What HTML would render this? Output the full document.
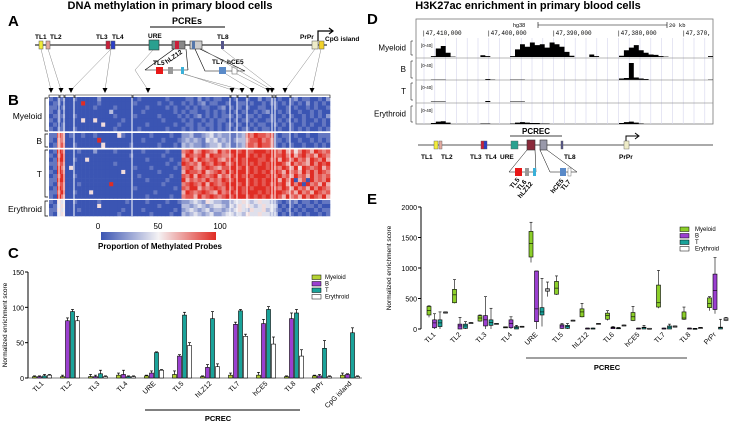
<!DOCTYPE html>
<html><head><meta charset="utf-8">
<style>
html,body{margin:0;padding:0;background:#fff;}
svg{display:block;font-family:"Liberation Sans",sans-serif;}
</style></head>
<body>
<svg id="fig" width="730" height="423" viewBox="0 0 730 423" xmlns="http://www.w3.org/2000/svg">
<!-- Titles / panel letters -->
<text x="170" y="9" font-size="11" font-weight="bold" text-anchor="middle">DNA methylation in primary blood cells</text>
<text x="528" y="9" font-size="11" font-weight="bold" text-anchor="middle">H3K27ac enrichment in primary blood cells</text>
<text x="8" y="26" font-size="15" font-weight="bold">A</text>
<text x="8" y="105" font-size="15" font-weight="bold">B</text>
<text x="8" y="258" font-size="15" font-weight="bold">C</text>
<text x="367" y="24" font-size="15" font-weight="bold">D</text>
<text x="367" y="204" font-size="15" font-weight="bold">E</text>

<!-- Panel A gene diagram -->
<g id="geneA" font-size="6.5" font-weight="bold">
  <line x1="150" y1="27" x2="225" y2="27" stroke="#000" stroke-width="1"/>
  <text x="187" y="24" font-size="9" text-anchor="middle">PCREs</text>
  <line x1="35" y1="45" x2="327" y2="45" stroke="#000" stroke-width="1"/>
  <rect x="39" y="41" width="4" height="8" fill="#f2ec3a" stroke="#555" stroke-width=".5"/>
  <rect x="46" y="41" width="4" height="8" fill="#e3aaa0" stroke="#555" stroke-width=".5"/>
  <rect x="106" y="41" width="4" height="8" fill="#c9203a" stroke="#555" stroke-width=".5"/>
  <rect x="111" y="41" width="4" height="8" fill="#2a3fc9" stroke="#555" stroke-width=".5"/>
  <rect x="149" y="40" width="10" height="10" fill="#2aa08f" stroke="#333" stroke-width=".6"/>
  <rect x="172" y="41" width="13" height="8" fill="#888" stroke="#333" stroke-width=".6"/>
  <rect x="175" y="41" width="4" height="8" fill="#c9203a"/>
  <rect x="190" y="41" width="12" height="8" fill="#ccc" stroke="#333" stroke-width=".6"/>
  <rect x="192" y="41" width="3" height="8" fill="#5577aa"/>
  <rect x="221" y="41" width="3" height="8" fill="#55558a"/>
  <rect x="312" y="41" width="6" height="8" fill="#eeecc8" stroke="#555" stroke-width=".5"/>
  <rect x="319" y="41" width="5" height="8" fill="#f2d22a" stroke="#555" stroke-width=".5"/>
  <path d="M318 41 V31 H332" fill="none" stroke="#000" stroke-width="1.2"/>
  <path d="M329 28 L333 31 L329 34" fill="none" stroke="#000" stroke-width="1.2"/>
  <text x="35" y="39">TL1</text><text x="50" y="39">TL2</text>
  <text x="96" y="39">TL3</text><text x="112" y="39">TL4</text>
  <text x="148" y="38">URE</text><text x="217" y="39">TL8</text>
  <text x="300" y="39">PrPr</text><text x="325" y="41">CpG island</text>
  <path d="M145 70 L174 49 M186 49 L188 70 M145 70 H188" fill="none" stroke="#000" stroke-width=".6"/>
  <rect x="156" y="67" width="7" height="7" fill="#e81818"/>
  <rect x="168" y="67" width="5" height="7" fill="#999"/>
  <rect x="181" y="67" width="3" height="7" fill="#3ab0d8"/>
  <text x="153" y="65">TL5</text>
  <text x="167" y="64" transform="rotate(-35 167 64)">hLZ12</text>
  <path d="M195 49 L205 71 H245 L200 49" fill="none" stroke="#000" stroke-width=".6"/>
  <rect x="219" y="67" width="7" height="7" fill="#5a8ac8"/>
  <rect x="232" y="67" width="5" height="7" fill="#fff" stroke="#555" stroke-width=".5"/>
  <text x="212" y="64">TL7</text><text x="227" y="64">hCE5</text>
  <g stroke="#888" stroke-width=".5" fill="none">
    <path d="M41 49 L51 90 M48 49 L61 90 M111 49 L71 90 M111 49 L105 90 M153 50 L135 70 L148 90"/>
    <path d="M185 74 L232 90 M183 74 L242 90 M226 74 L252 90 M237 74 L268 90 M222 49 L275 90 M202 49 L272 90 M315 49 L285 90 M321 49 L312 90"/>
  </g>
  <g id="arrowsA" fill="#000"></g>
</g>

<!-- Panel B heatmap -->
<g id="heat"></g>
<g font-size="8.5">
  <text x="42" y="119" text-anchor="end">Myeloid</text>
  <text x="42" y="144" text-anchor="end">B</text>
  <text x="42" y="177" text-anchor="end">T</text>
  <text x="42" y="212" text-anchor="end">Erythroid</text>
  <path d="M48 98 H45 V131 H48 M48 134 H45 V147 H48 M48 150 H45 V197 H48 M48 201 H45 V216 H48" fill="none" stroke="#000" stroke-width=".7"/>
</g>
<defs><linearGradient id="cb" x1="0" x2="1"><stop offset="0" stop-color="#3b55b3"/><stop offset=".5" stop-color="#f4f2f4"/><stop offset="1" stop-color="#e02c24"/></linearGradient></defs>
<g>
  <rect x="101" y="232" width="115" height="8" fill="url(#cb)"/>
  <text x="98" y="229" font-size="8" text-anchor="middle">0</text>
  <text x="158" y="229" font-size="8" text-anchor="middle">50</text>
  <text x="220" y="229" font-size="8" text-anchor="middle">100</text>
  <text x="160" y="249" font-size="8" font-weight="bold" text-anchor="middle">Proportion of Methylated Probes</text>
</g>

<!-- Panel C -->
<g id="chartC"></g>
<!-- Panel D -->
<g id="browser"></g>
<!-- Panel E -->
<g id="chartE"></g>
</svg>
<script>
const NS="http://www.w3.org/2000/svg";
function mk(parent,tag,attrs,text){const e=document.createElementNS(NS,tag);for(const k in attrs)e.setAttribute(k,attrs[k]);if(text!==undefined)e.textContent=text;parent.appendChild(e);return e;}

/* ---------- Heatmap data (digits 0=unmethylated blue .. 9=methylated red) ---------- */
const heatMyeloid=[
"10"+"11"+"00100000200000000010000001000"+"011020101100"+"010010020110"+"1001201100102",
"01"+"10"+"00009000100000000100000100100"+"101012011001"+"001101001011"+"0101010201010",
"11"+"01"+"00000001000010000000100001010"+"010101100120"+"101010011001"+"0010100101001",
"10"+"10"+"00000000000300000001000000010"+"101100101010"+"010100101200"+"1010010010100",
"01"+"11"+"00100000000010000100000100001"+"010120101011"+"101011010010"+"0101001010102",
"10"+"10"+"00005005000000100000000010000"+"101001010110"+"010110100110"+"1010101001010",
"01"+"01"+"00000000050001000000100000010"+"011010110101"+"101001011001"+"0101001010010",
"10"+"11"+"00100000000010000010000001000"+"101011010101"+"010110101100"+"1001010100101"];
const heatB=[
"11"+"87"+"01001001000005100000010000100"+"223112342322"+"112387988781"+"0110100100111",
"10"+"77"+"00000000900000000001000010001"+"232321434232"+"123378897871"+"1010010010101",
"01"+"78"+"00100000050000001000000100010"+"323221233423"+"112388798871"+"0101001001010"];
const heatT=[
"01"+"98"+"00010002000010000001000001000"+"789679876978"+"998988999898"+"7968579869878",
"10"+"89"+"00000000000000001000000010000"+"698789698877"+"899989898998"+"8979689786987",
"01"+"99"+"00100500000000000000100000100"+"879698789768"+"989899988989"+"6987978698796",
"11"+"88"+"00000000000010000000000001001"+"987869879897"+"899898989899"+"9869787697989",
"01"+"97"+"05000000000000000100010000010"+"789768987688"+"998989899898"+"7986959878968",
"10"+"98"+"00000000000000500000000100000"+"698879678979"+"899989898989"+"8697869797987",
"01"+"89"+"00100000000000000010000000100"+"879698789687"+"989898999898"+"9786978697878",
"11"+"99"+"00000000000000000000100001000"+"968787978798"+"899989898999"+"6979068097879",
"10"+"88"+"00010000000900000000000010000"+"789879698789"+"998989898989"+"8969790978696",
"01"+"98"+"00000000000000000100000000010"+"879968789879"+"899898999898"+"7986978697987",
"11"+"89"+"00100050000000000000001000000"+"698789876978"+"989899989899"+"9878697869878",
"10"+"97"+"00000000000000000000100000100"+"788697898789"+"899989898989"+"8697869798796"];
const heatEry=[
"10"+"54"+"00100000100000010000100001001"+"223432543322"+"344543454432"+"1011201101011",
"01"+"45"+"00000000500000000000000100000"+"332343234432"+"435454345443"+"0101010110100",
"11"+"54"+"00010000000000100001000000010"+"234323423323"+"345435445342"+"1010101001011",
"10"+"45"+"00000000000001000000010000100"+"323432342234"+"434354454433"+"0101010100101"];

function heatColor(v){const t=v/9;let r,g,b;
 if(t<.5){const u=t/.5;r=59+(244-59)*u;g=85+(242-85)*u;b=179+(244-179)*u;}
 else{const u=(t-.5)/.5;r=244+(224-244)*u;g=242+(44-242)*u;b=244+(36-244)*u;}
 return `rgb(${r|0},${g|0},${b|0})`;}
(function(){
 const g=document.getElementById('heat');
 const x0=49,x1=330,cols=70,cw=(x1-x0)/cols;
 const groups=[[heatMyeloid,97,131],[heatB,133,147.5],[heatT,149.5,198.5],[heatEry,200,216]];
 groups.forEach(([rows,ya,yb])=>{const rh=(yb-ya)/rows.length;
  rows.forEach((s,ri)=>{for(let c=0;c<s.length&&c<cols;c++){
   const r=mk(g,'rect',{x:(x0+c*cw).toFixed(2),y:(ya+ri*rh).toFixed(2),width:(cw+.3).toFixed(2),height:(rh+.3).toFixed(2),fill:heatColor(+s[c])});
   
   
  }});});
 [59,64,74,132,230,237,247,272,275,290].forEach(x=>mk(g,'line',{x1:x,y1:97,x2:x,y2:216,stroke:'#fff','stroke-width':1}));
 // bracket frames on top
 const br=[[49,59],[60,64],[65,74],[75,132],[133,230],[231,237],[238,247],[248,272],[273,275],[276,290],[291,330]];
 br.forEach(([a,b])=>mk(g,'path',{d:`M${a} 98 V95 H${b} V98`,fill:'none',stroke:'#000','stroke-width':.6}));
 const arr=document.getElementById('arrowsA');
 [51,61,71,105,148,232,242,252,268,272,285,312].forEach(x=>mk(arr,'path',{d:`M${x-2.5} 88 L${x+2.5} 88 L${x} 93 Z`}));
})();

/* ---------- Panel C data ---------- */
const cCategories=["TL1","TL2","TL3","TL4","URE","TL5","hLZ12","TL7","hCE5","TL8","PrPr","CpG island"];
const cSeriesNames=["Myeloid","B","T","Erythroid"];
const cMyeloid=[2,2,2,4,3,5,2,4,4,2,3,4];
const cB=[2,81,2,5,7,31,15,76,77,84,3,5];
const cT=[3,94,6,2,36,89,84,95,97,92,42,64];
const cErythroid=[4,81,2,2,11,46,16,59,48,31,2,2];
const cMyeloidErr=[1,2,3,3,1,5,1,3,4,1,1,3];
const cBErr=[1,4,2,6,3,2,4,3,6,8,2,1];
const cTErr=[2,3,5,1,1,4,10,2,4,5,11,7];
const cErythroidErr=[1,6,1,1,1,4,4,3,10,9,1,1];
const cTicks=[0,50,100,150];
(function(){
 const g=document.getElementById('chartC');
 const yA=378,yB=272,vmax=150,xl=28;
 const ys=v=>yA-(v/vmax)*(yA-yB);
 const xs=i=>42+28*i;
 const fills=["#b5d334","#9b3fd0","#1aa39a","#ffffff"];
 const data=[cMyeloid,cB,cT,cErythroid], errs=[cMyeloidErr,cBErr,cTErr,cErythroidErr];
 mk(g,'line',{x1:xl,y1:yB,x2:xl,y2:yA,stroke:'#000','stroke-width':1});
 mk(g,'line',{x1:xl,y1:yA,x2:362,y2:yA,stroke:'#000','stroke-width':.6});
 cTicks.forEach(t=>{mk(g,'line',{x1:xl-3,y1:ys(t),x2:xl,y2:ys(t),stroke:'#000'});
  const l=mk(g,'text',{x:xl-4,y:ys(t)+3,'font-size':7,'text-anchor':'end'},String(t));
  
  });
 const yt=mk(g,'text',{x:7,y:325,'font-size':6.5,'text-anchor':'middle',transform:'rotate(-90 7 325)'},'Normalized enrichment score');
 
 
 cCategories.forEach((c,i)=>{const cx=xs(i);
  data.forEach((s,k)=>{const x=cx-9.5+5*k,v=s[i],e=errs[k][i];
   mk(g,'line',{x1:x+2,y1:ys(v),x2:x+2,y2:ys(v+e),stroke:'#000','stroke-width':.7});
   mk(g,'line',{x1:x+.5,y1:ys(v+e),x2:x+3.5,y2:ys(v+e),stroke:'#000','stroke-width':.7});
   const b=mk(g,'rect',{x:x,y:ys(v),width:4,height:yA-ys(v),fill:fills[k],stroke:'#000','stroke-width':.6});
   
   });
  const tx=cx+2,ty=384;
  const l=mk(g,'text',{x:tx,y:ty,'font-size':7,'text-anchor':'end',transform:`rotate(-45 ${tx} ${ty})`},c);
  
  });
 mk(g,'line',{x1:145,y1:410,x2:300,y2:410,stroke:'#000','stroke-width':1});
 mk(g,'text',{x:218,y:421,'font-size':7.5,'font-weight':'bold','text-anchor':'middle'},'PCREC');
 cSeriesNames.forEach((n,k)=>{const y=279+6.5*k;
  const r=mk(g,'rect',{x:312,y:y-4,width:9,height:4.5,fill:fills[k],stroke:'#000','stroke-width':.5});
  
  
  mk(g,'text',{x:325,y:y,'font-size':6},n);});
})();

/* ---------- Panel D browser data ---------- */
const dMyeloid=[0,0,0,2,20,26,10,1,0,0,0,0,0,4,2,0,0,0,0,2,18,30,24,34,28,30,22,34,30,24,12,3,0,0,0,6,2,0,0,0,0,3,16,22,28,16,10,6,5,2,1,0,0,0,0,0,0,0,0,2];
const dB=[0,0,0,1,1,1,0,0,0,0,0,0,0,0,2,1,0,0,0,1,1,1,0,0,0,0,0,0,0,0,0,0,0,0,0,0,0,0,0,0,0,3,4,34,5,3,2,0,0,0,0,0,0,0,0,0,0,0,0,1];
const dT=[0,0,0,1,1,1,0,0,0,0,0,0,0,0,2,0,0,0,0,1,1,1,0,0,0,0,0,0,0,0,0,0,0,0,0,0,0,0,0,0,0,0,0,0,0,0,0,0,0,0,0,0,0,0,0,0,0,0,0,0];
const dErythroid=[0,0,0,2,5,6,3,0,0,0,0,0,0,1,1,0,0,0,0,1,3,4,3,2,2,1,1,0,0,0,0,0,0,0,0,0,0,0,0,0,0,2,4,5,3,1,0,0,0,0,0,0,0,0,0,0,0,0,0,0];
const dTrackNames=["Myeloid","B","T","Erythroid"];
const dCoordLabels=["|47,410,000","|47,400,000","|47,390,000","|47,380,000","|47,370,"];
(function(){
 const g=document.getElementById('browser');
 const X0=416,X1=713,Y0=19,Y1=124;
 mk(g,'rect',{x:X0,y:Y0,width:X1-X0,height:Y1-Y0,fill:'#fff',stroke:'#777','stroke-width':.8});
 for(let x=X0+8;x<X1;x+=10.8)mk(g,'line',{x1:x,y1:38,x2:x,y2:Y1,stroke:'#d6d6ec','stroke-width':.6});
 dCoordLabels.forEach((t,i)=>mk(g,'text',{x:422+65*i,y:35,'font-size':6,'font-family':'Liberation Mono, monospace'},t));
 mk(g,'text',{x:513,y:27,'font-size':5.5},'hg38');
 mk(g,'path',{d:'M538 22 V28 M538 25 H667 M667 22 V28',stroke:'#000',fill:'none','stroke-width':.6});
 mk(g,'text',{x:669,y:27,'font-size':5.5,'font-family':'Liberation Mono, monospace'},'20 kb');
 const tracks=[[dMyeloid,38,57],[dB,58,80],[dT,80,102],[dErythroid,103,124]];
 tracks.forEach(([s,ya,yb],k)=>{
  if(k>0)mk(g,'line',{x1:X0,y1:ya,x2:X1,y2:ya,stroke:'#777','stroke-width':.6});
  const bw=(X1-X0)/s.length,h=yb-ya-2;
  let d=`M${X0} ${yb}`;
  s.forEach((v,i)=>{const y=yb-(v/40)*h;d+=` L${(X0+i*bw).toFixed(1)} ${y.toFixed(1)} L${(X0+(i+1)*bw).toFixed(1)} ${y.toFixed(1)}`;});
  d+=` L${X1} ${yb} Z`;
  const p=mk(g,'path',{d:d,fill:'#000'});
  
  
  mk(g,'text',{x:421,y:ya+9,'font-size':4.5},'[0-40]');
  mk(g,'path',{d:`M${X0-3} ${ya+3} H${X0-5} V${yb-2} H${X0-3}`,fill:'none',stroke:'#000','stroke-width':.5});
  mk(g,'text',{x:406,y:(ya+yb)/2+3,'font-size':8,'text-anchor':'end'},dTrackNames[k]);
 });
 // gene diagram D
 const gd=mk(g,'g',{'font-size':6.5,'font-weight':'bold'});
 mk(gd,'line',{x1:418,y1:145,x2:713,y2:145,stroke:'#555','stroke-width':1});
 mk(gd,'line',{x1:510,y1:136,x2:562,y2:136,stroke:'#000','stroke-width':.7});
 mk(gd,'text',{x:536,y:134,'font-size':8,'text-anchor':'middle'},'PCREC');
 [[434,4,'#f2ec3a'],[439,3,'#e3aaa0'],[481,3,'#c9203a'],[484,3,'#2a3fc9'],[511,7,'#2aa08f'],[561,2,'#55558a'],[624,5,'#eeecc8']].forEach(([x,w,c])=>mk(gd,'rect',{x:x,y:141,width:w,height:8,fill:c,stroke:'#555','stroke-width':.4}));
 mk(gd,'rect',{x:527,y:140,width:8,height:10,fill:'#8a2a3a',stroke:'#333','stroke-width':.6});
 mk(gd,'rect',{x:540,y:140,width:7,height:10,fill:'#99a',stroke:'#333','stroke-width':.6});
 mk(gd,'path',{d:'M626 141 V136 H638 M635 133 L639 136 L635 139',fill:'none',stroke:'#000','stroke-width':1});
 [['TL1',421],['TL2',441],['TL3',470],['TL4',485],['URE',500],['TL8',564],['PrPr',619]].forEach(([t,x])=>mk(gd,'text',{x:x,y:159},t));
 mk(gd,'path',{d:'M527 150 L509 172 H536 L535 150 M540 150 L550 172 H577 L547 150',fill:'none',stroke:'#000','stroke-width':.5});
 mk(gd,'rect',{x:515,y:168,width:7,height:8,fill:'#e81818'});
 mk(gd,'rect',{x:525,y:168,width:4,height:8,fill:'#999'});
 mk(gd,'rect',{x:533,y:168,width:3,height:8,fill:'#3ab0d8'});
 mk(gd,'rect',{x:560,y:168,width:6,height:8,fill:'#5a8ac8'});
 mk(gd,'rect',{x:568,y:168,width:3,height:8,fill:'#fff',stroke:'#555','stroke-width':.4});
 [['TL5',520,180],['TL6',527,182],['hLZ12',533,184],['hCE5',564,181],['TL7',571,182]].forEach(([t,x,y])=>mk(gd,'text',{x:x,y:y,'text-anchor':'end',transform:`rotate(-50 ${x} ${y})`},t));
})();

/* ---------- Panel E data: [median, q1, q3, min, max] ---------- */
const eCategories=["TL1","TL2","TL3","TL4","URE","TL5","hLZ12","TL6","hCE5","TL7","TL8","PrPr"];
const eSeriesNames=["Myeloid","B","T","Erythroid"];
const eMyeloid=[[300,230,370,190,380],[560,430,650,420,810],[180,130,220,120,230],[30,25,35,25,35],[1400,1180,1600,1090,1750],[670,570,780,560,870],[280,200,330,190,420],[220,160,260,140,300],[200,140,270,130,370],[430,360,720,340,960],[180,160,280,150,360],[420,350,510,300,530]];
const eB=[[100,20,150,0,250],[50,0,80,0,190],[150,50,220,0,530],[90,20,150,0,200],[330,120,950,0,950],[50,10,70,0,90],[10,5,15,0,15],[20,5,30,0,40],[10,5,15,0,15],[10,5,15,0,15],[10,5,15,0,15],[630,320,900,250,1170]];
const eT=[[100,40,150,0,280],[50,10,80,0,120],[110,60,150,0,340],[20,0,40,0,60],[280,230,350,40,830],[40,10,60,0,90],[10,5,15,0,15],[15,5,20,0,25],[20,0,30,0,60],[30,0,50,0,80],[5,0,10,0,10],[20,0,30,0,160]];
const eErythroid=[[270,260,280,260,280],[100,95,105,95,105],[90,88,92,88,92],[40,35,45,35,45],[640,620,660,530,770],[140,135,145,135,145],[90,88,92,88,92],[60,55,65,55,65],[10,8,12,8,12],[40,30,50,30,50],[20,15,25,15,25],[160,140,180,130,190]];
const eTicks=[0,500,1000,1500,2000];
(function(){
 const g=document.getElementById('chartE');
 const yA=329,xl=421,pxPer=30.5/500;
 const ys=v=>yA-v*pxPer;
 const xs=i=>435+25.5*i;
 const fills=["#8ccf2a","#9b3fd0","#1aa39a","#ffffff"];
 const data=[eMyeloid,eB,eT,eErythroid];
 mk(g,'line',{x1:xl,y1:ys(2000),x2:xl,y2:yA,stroke:'#000','stroke-width':1});
 eTicks.forEach(t=>{mk(g,'line',{x1:xl-3,y1:ys(t),x2:xl,y2:ys(t),stroke:'#000'});
  const l=mk(g,'text',{x:xl-4,y:ys(t)+3,'font-size':7,'text-anchor':'end'},String(t));
  
  });
 const yt=mk(g,'text',{x:391,y:268,'font-size':6.5,'text-anchor':'middle',transform:'rotate(-90 391 268)'},'Normalized enrichment score');
 
 
 eCategories.forEach((c,i)=>{const cx=xs(i);
  data.forEach((s,k)=>{const [md,q1,q3,mn,mx]=s[i];const x=cx-8+5.5*k,w=4;
   mk(g,'line',{x1:x+w/2,y1:ys(mx),x2:x+w/2,y2:ys(mn),stroke:'#000','stroke-width':.6});
   mk(g,'line',{x1:x+.5,y1:ys(mx),x2:x+w-.5,y2:ys(mx),stroke:'#000','stroke-width':.6});
   const b=mk(g,'rect',{x:x,y:ys(q3),width:w,height:Math.max(ys(q1)-ys(q3),1),fill:fills[k],stroke:'#000','stroke-width':.6});
   
   
   mk(g,'line',{x1:x,y1:ys(md),x2:x+w,y2:ys(md),stroke:'#000','stroke-width':.6});});
  const tx=cx+1,ty=335;
  const l=mk(g,'text',{x:tx,y:ty,'font-size':7,'text-anchor':'end',transform:`rotate(-45 ${tx} ${ty})`},c);
  
  });
 mk(g,'line',{x1:526,y1:358,x2:687,y2:358,stroke:'#000','stroke-width':.8});
 mk(g,'text',{x:607,y:370,'font-size':7.5,'font-weight':'bold','text-anchor':'middle'},'PCREC');
 eSeriesNames.forEach((n,k)=>{const y=231+6.5*k;
  const r=mk(g,'rect',{x:680,y:y-4,width:9,height:4.5,fill:fills[k],stroke:'#000','stroke-width':.5});
  
  
  mk(g,'text',{x:695,y:y,'font-size':6},n);});
})();
</script>
</body></html>
